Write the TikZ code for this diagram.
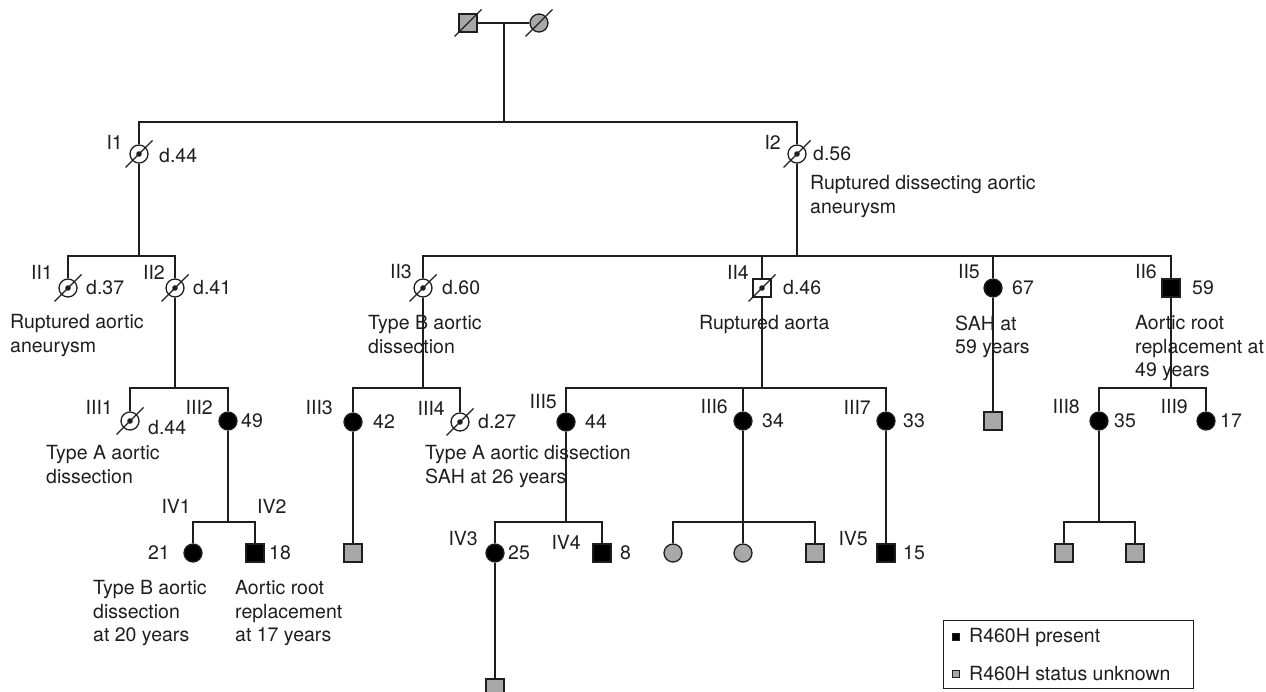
\documentclass[tikz,border=0pt]{standalone}
\usepackage{fontspec}
\setmainfont{TeX Gyre Heros}
\usetikzlibrary{backgrounds}
\definecolor{pedgray}{RGB}{168,168,168}
\definecolor{inkc}{RGB}{30,30,30}
\begin{document}
\begin{tikzpicture}[x=1pt,y=-1pt,
  ln/.style={line width=1.3pt, draw=inkc},
  sym/.style={draw=inkc, line width=1.3pt, inner sep=0pt, minimum size=18pt},
  sq/.style={sym, rectangle},
  ci/.style={sym, circle},
  aff/.style={fill=black},
  unk/.style={fill=pedgray},
  dec/.style={fill=white, path picture={\fill[inkc] (path picture bounding box.center) circle[radius=2.8pt];}},
  txt/.style={font=\fontsize{19.5}{23.5}\selectfont, inner sep=0pt, text=inkc},
  lab/.style={txt, anchor=east},
  labr/.style={txt, anchor=west},
  age/.style={txt, anchor=west},
  agel/.style={txt, anchor=east},
  ann/.style={txt, anchor=north west, align=left},
  slash/.style={line width=1.3pt, draw=inkc},
]
\useasboundingbox (0,0) rectangle (1266,692);

% ---------- generation 0
\node[sq,unk] (P1) at (468,23) {};
\node[ci,unk] (P2) at (539,23) {};
\coordinate (P) at (504,23);
\coordinate (S0a) at (139,122);
\coordinate (S0b) at (797,122);
\coordinate (S0m) at (504,122);

% ---------- generation I
\node[ci,dec] (I1) at (139,154) {};
\node[ci,dec] (I2) at (797,154) {};
\node[lab] (lI1) at (123,142) {I1};
\node[age] (dI1) at (159,156) {d.44};
\node[lab] (lI2) at (781,142) {I2};
\node[age] (dI2) at (813,154) {d.56};
\node[ann] (aI2) at (810,175.5) {Ruptured dissecting aortic\\aneurysm};

% ---------- generation II
\coordinate (S1a) at (68,256);
\coordinate (S1b) at (175,256);
\coordinate (S1m) at (139,256);
\node[ci,dec] (II1) at (68,288) {};
\node[ci,dec] (II2) at (175,288) {};
\node[lab] (lII1) at (53,272) {II1};
\node[age] (dII1) at (86,288) {d.37};
\node[ann] (aII1) at (10,314.5) {Ruptured aortic\\aneurysm};
\node[lab] (lII2) at (165,272) {II2};
\node[age] (dII2) at (193,288) {d.41};

\coordinate (S2a) at (423,256);
\coordinate (S2b) at (1171,256);
\coordinate (S2m) at (797,256);
\coordinate (S2c) at (762,256);
\coordinate (S2d) at (993,256);
\node[ci,dec] (II3) at (423,288) {};
\node[sq,dec] (II4) at (762,288) {};
\node[ci,aff] (II5) at (993,288) {};
\node[sq,aff] (II6) at (1171,288) {};
\node[lab] (lII3) at (412,272) {II3};
\node[age] (dII3) at (442,288) {d.60};
\node[ann] (aII3) at (368,315.5) {Type B aortic\\dissection};
\node[lab] (lII4) at (749,272) {II4};
\node[age] (dII4) at (783,288) {d.46};
\node[ann] (aII4) at (699,315.5) {Ruptured aorta};
\node[lab] (lII5) at (980,272) {II5};
\node[age] (gII5) at (1012,288) {67};
\node[ann] (aII5) at (955,315.5) {SAH at\\59 years};
\node[lab] (lII6) at (1157,272) {II6};
\node[age] (gII6) at (1192,288) {59};
\node[ann] (aII6) at (1135,315.5) {Aortic root\\replacement at\\49 years};
\node[sq,unk] (U1) at (993,421) {};

% ---------- generation III
\coordinate (S3a) at (130,388);
\coordinate (S3b) at (228,388);
\coordinate (S3m) at (175,388);
\node[ci,dec] (III1) at (130,421) {};
\node[ci,aff] (III2) at (228,421) {};
\node[lab] (lIII1) at (113,407) {III1};
\node[age] (dIII1) at (148,428) {d.44};
\node[ann] (aIII1) at (46,445.5) {Type A aortic\\dissection};
\node[lab] (lIII2) at (213,407) {III2};
\node[age] (gIII2) at (241,421) {49};

\coordinate (S4a) at (353,388);
\coordinate (S4b) at (460,388);
\coordinate (S4m) at (423,388);
\node[ci,aff] (III3) at (353,422) {};
\node[ci,dec] (III4) at (460,422) {};
\node[lab] (lIII3) at (333,408) {III3};
\node[age] (gIII3) at (373,422) {42};
\node[lab] (lIII4) at (445,408) {III4};
\node[age] (dIII4) at (478,422) {d.27};
\node[ann] (aIII4) at (425,445.5) {Type A aortic dissection\\SAH at 26 years};
\node[sq,unk] (U2) at (353,553) {};

\coordinate (S5a) at (566,388);
\coordinate (S5b) at (886,388);
\coordinate (S5m) at (762,388);
\coordinate (S5c) at (743,388);
\node[ci,aff] (III5) at (566,422) {};
\node[ci,aff] (III6) at (743,421) {};
\node[ci,aff] (III7) at (886,421) {};
\node[lab] (lIII5) at (557,402) {III5};
\node[age] (gIII5) at (585,422) {44};
\node[lab] (lIII6) at (728,407) {III6};
\node[age] (gIII6) at (762,421) {34};
\node[lab] (lIII7) at (871,407) {III7};
\node[age] (gIII7) at (903,421) {33};

\coordinate (S6a) at (1099,388);
\coordinate (S6b) at (1206,388);
\coordinate (S6m) at (1171,388);
\node[ci,aff] (III8) at (1099,421) {};
\node[ci,aff] (III9) at (1206,421) {};
\node[lab] (lIII8) at (1080,407) {III8};
\node[age] (gIII8) at (1114,421) {35};
\node[lab] (lIII9) at (1188,407) {III9};
\node[age] (gIII9) at (1220,421) {17};

% ---------- generation IV
\coordinate (S7a) at (193,522);
\coordinate (S7b) at (255,522);
\coordinate (S7m) at (228,522);
\node[ci,aff] (IV1) at (193,553) {};
\node[sq,aff] (IV2) at (255,553) {};
\node[lab] (lIV1) at (191,506) {IV1};
\node[labr] (lIV2) at (257,506) {IV2};
\node[agel] (gIV1) at (170,553) {21};
\node[age] (gIV2) at (269,553) {18};
\node[ann] (aIV1) at (93,580.5) {Type B aortic\\dissection\\at 20 years};
\node[ann] (aIV2) at (235,580.5) {Aortic root\\replacement\\at 17 years};

\coordinate (S8a) at (495,522);
\coordinate (S8b) at (602,522);
\coordinate (S8m) at (566,522);
\node[ci,aff] (IV3) at (495,553) {};
\node[sq,aff] (IV4) at (602,553) {};
\node[lab] (lIV3) at (478,539) {IV3};
\node[age] (gIV3) at (508,553) {25};
\node[lab] (lIV4) at (581,542) {IV4};
\node[age] (gIV4) at (620,553) {8};
\node[sq,unk] (U3) at (495,688) {};

\coordinate (S9a) at (673,522);
\coordinate (S9b) at (815,522);
\coordinate (S9m) at (743,522);
\node[ci,unk] (U4) at (673,553) {};
\node[ci,unk] (U5) at (743,553) {};
\node[sq,unk] (U6) at (815,553) {};

\node[sq,aff] (IV5) at (886,553) {};
\node[lab] (lIV5) at (868,539) {IV5};
\node[age] (gIV5) at (903,553) {15};

\coordinate (S10a) at (1064,522);
\coordinate (S10b) at (1135,522);
\coordinate (S10m) at (1099,522);
\node[sq,unk] (U7) at (1064,553) {};
\node[sq,unk] (U8) at (1135,553) {};

% ---------- slashes for deceased
\foreach \n in {P1,P2,I1,I2,II1,II2,II3,II4,III1,III4}
  \draw[slash] ([shift={(-13.5pt,-13.5pt)}]\n.center) -- ([shift={(13.5pt,13.5pt)}]\n.center);

% ---------- legend
\node[draw=inkc, line width=1.2pt, minimum width=250pt, minimum height=68pt, inner sep=0pt, anchor=north west] (leg) at (943,620) {};
\node[draw=inkc, line width=0.8pt, fill=black, minimum size=7pt, inner sep=0pt] (k1) at (956,637) {};
\node[draw=inkc, line width=0.8pt, fill=pedgray, minimum size=7pt, inner sep=0pt] (k2) at (956,674) {};
\node[age] (t1) at (969,638) {R460H present};
\node[age] (t2) at (969,674) {R460H status unknown};

% ---------- connectors
\begin{scope}[on background layer]
\draw[ln] (P1) -- (P2);
\draw[ln] (P) -- (S0m);
\draw[ln] (I1) -- (S0a) -- (S0b) -- (I2);
\draw[ln] (II1) -- (S1a) -- (S1b) -- (II2);
\draw[ln] (I1) -- (S1m);
\draw[ln] (II3) -- (S2a) -- (S2b) -- (II6);
\draw[ln] (I2) -- (S2m);
\draw[ln] (S2c) -- (II4);
\draw[ln] (S2d) -- (II5);
\draw[ln] (II5) -- (U1);
\draw[ln] (III1) -- (S3a) -- (S3b) -- (III2);
\draw[ln] (II2) -- (S3m);
\draw[ln] (III3) -- (S4a) -- (S4b) -- (III4);
\draw[ln] (II3) -- (S4m);
\draw[ln] (III3) -- (U2);
\draw[ln] (III5) -- (S5a) -- (S5b) -- (III7);
\draw[ln] (II4) -- (S5m);
\draw[ln] (S5c) -- (III6);
\draw[ln] (III8) -- (S6a) -- (S6b) -- (III9);
\draw[ln] (II6) -- (S6m);
\draw[ln] (IV1) -- (S7a) -- (S7b) -- (IV2);
\draw[ln] (III2) -- (S7m);
\draw[ln] (IV3) -- (S8a) -- (S8b) -- (IV4);
\draw[ln] (III5) -- (S8m);
\draw[ln] (IV3) -- (U3);
\draw[ln] (U4) -- (S9a) -- (S9b) -- (U6);
\draw[ln] (III6) -- (U5);
\draw[ln] (III7) -- (IV5);
\draw[ln] (U7) -- (S10a) -- (S10b) -- (U8);
\draw[ln] (III8) -- (S10m);
\end{scope}
\end{tikzpicture}
\end{document}
